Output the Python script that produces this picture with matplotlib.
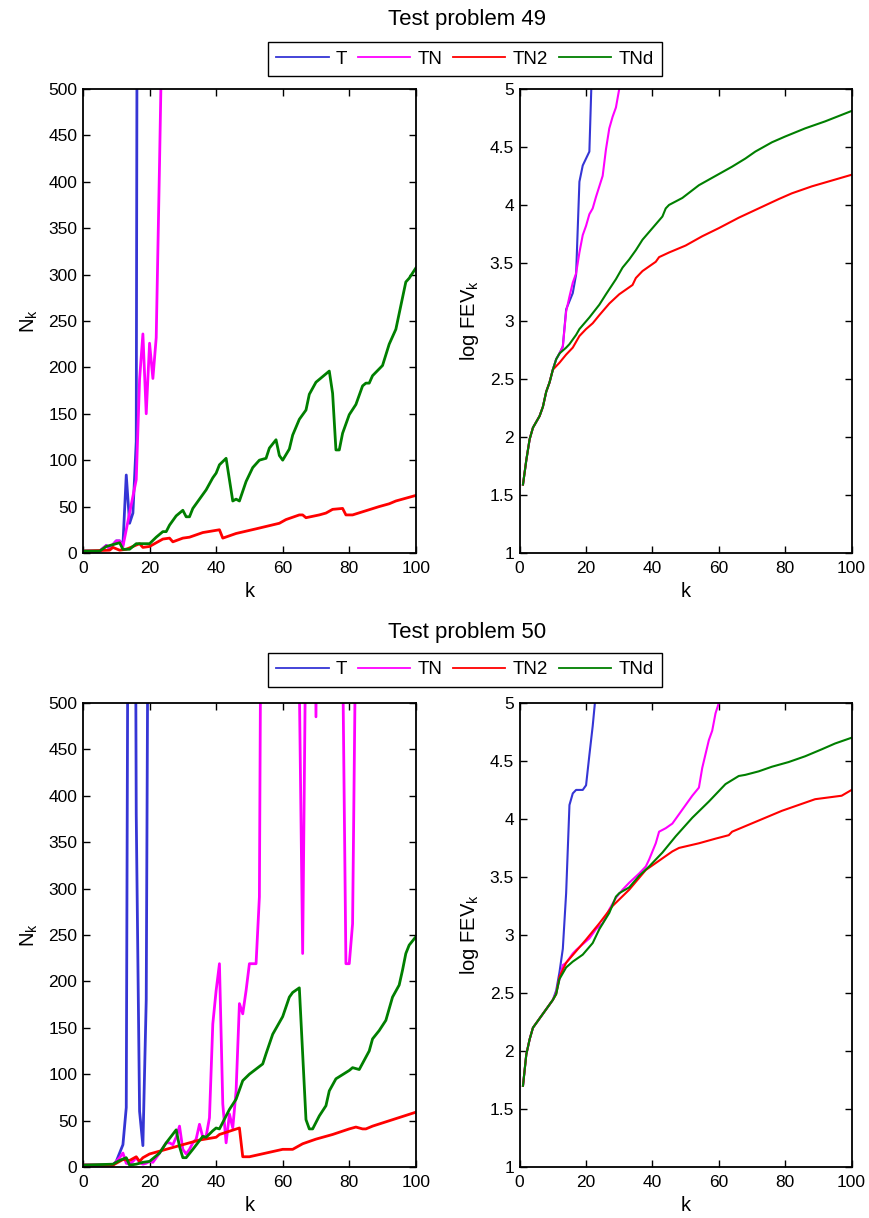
import matplotlib
matplotlib.use('Agg')
import matplotlib.pyplot as plt
from matplotlib.lines import Line2D
from matplotlib.ticker import MultipleLocator, FormatStrFormatter

plt.rcParams['font.family'] = ['Liberation Sans', 'DejaVu Sans']
plt.rcParams['mathtext.default'] = 'regular'

# ---- Test problem 49 : N_k ----
t49_k = [0, 5, 7, 8, 10, 11, 12, 13, 14, 15, 16, 17]
t49_n = [2, 2, 8, 5, 13, 13, 9, 84, 32, 43, 120, 2000]
tn49_k = [0, 5, 7, 8, 10, 11, 12, 14, 16, 17, 18, 19, 20, 21, 22, 23, 24]
tn49_n = [2, 2, 8, 5, 13, 13, 7, 43, 79, 187, 236, 150, 226, 188, 232, 420, 620]
tn2_49_k = [0, 8, 9, 11, 13, 15, 17, 18, 20, 22, 24, 26, 27, 30, 32, 36, 41, 42, 46, 52,
            59, 61, 65, 66, 67, 71, 73, 75, 78, 79, 81, 89, 92, 94, 100]
tn2_49_n = [2, 3, 6, 3, 4, 7, 10, 6, 7, 11, 15, 16, 12, 16, 17, 22, 25, 16, 21, 26,
            32, 36, 41, 41, 38, 41, 43, 47, 48, 41, 41, 50, 53, 56, 62]
tnd49_k = [0, 5, 7, 9, 11, 12, 14, 16, 20, 22, 24, 25, 26, 28, 30, 31, 32, 33, 35, 37,
           39, 40, 41, 43, 45, 46, 47, 49, 51, 53, 55, 56, 58, 59, 60, 62, 63, 65, 67, 68,
           70, 74, 75, 76, 77, 78, 80, 82, 84, 85, 86, 87, 90, 92, 94, 97, 98, 100]
tnd49_n = [2, 2, 7, 9, 11, 4, 4, 10, 10, 17, 23, 23, 30, 40, 46, 39, 39, 48, 58, 68,
           81, 86, 95, 102, 56, 58, 56, 77, 92, 100, 102, 113, 122, 105, 100, 112, 127, 144, 154, 171,
           184, 196, 172, 111, 111, 129, 149, 160, 180, 183, 183, 191, 202, 225, 241, 292, 296, 307]

# ---- Test problem 49 : log FEV_k ----
t49_fk = [1, 2, 3, 4, 6, 7, 8, 9, 10, 11, 12, 13, 14, 15, 16, 17, 18, 19, 20, 21, 22]
t49_f = [1.59, 1.80, 1.98, 2.08, 2.18, 2.26, 2.39, 2.47, 2.58, 2.67,
         2.72, 2.78, 3.10, 3.17, 3.24, 3.40, 4.20, 4.34, 4.40, 4.46, 5.4]
tn49_fk = [1, 2, 3, 4, 6, 7, 8, 9, 10, 11, 12, 13, 14, 15, 16, 17, 18, 19, 20, 21,
           22, 23, 25, 26, 27, 28, 29, 30, 31]
tn49_f = [1.59, 1.80, 1.98, 2.08, 2.18, 2.26, 2.39, 2.47, 2.58, 2.67,
          2.72, 2.78, 3.08, 3.21, 3.33, 3.41, 3.59, 3.74, 3.82, 3.92,
          3.97, 4.07, 4.25, 4.48, 4.66, 4.76, 4.84, 5.0, 5.15]
tn2_49_fk = [1, 2, 3, 4, 6, 7, 8, 9, 10, 11, 12, 14, 16, 18, 20, 22, 24, 27, 30, 34,
             35, 37, 41, 42, 45, 50, 55, 60, 66, 72, 78, 82, 88, 94, 100]
tn2_49_f = [1.59, 1.80, 1.98, 2.08, 2.18, 2.26, 2.39, 2.47, 2.58, 2.61,
            2.64, 2.71, 2.77, 2.87, 2.93, 2.98, 3.05, 3.15, 3.23, 3.31,
            3.37, 3.43, 3.51, 3.55, 3.59, 3.65, 3.73, 3.80, 3.89, 3.97,
            4.05, 4.10, 4.16, 4.21, 4.26]
tnd49_fk = [1, 2, 3, 4, 6, 7, 8, 9, 10, 11, 12, 14, 15, 17, 18, 21, 24, 26, 29, 31,
            33, 35, 37, 40, 43, 44, 45, 49, 54, 59, 64, 68, 71, 76, 80, 86, 92, 100]
tnd49_f = [1.59, 1.80, 1.98, 2.08, 2.18, 2.26, 2.39, 2.47, 2.58, 2.67,
           2.72, 2.77, 2.80, 2.88, 2.93, 3.03, 3.14, 3.23, 3.36, 3.46,
           3.53, 3.61, 3.70, 3.80, 3.90, 3.97, 4.00, 4.06, 4.17, 4.25,
           4.33, 4.40, 4.46, 4.54, 4.59, 4.66, 4.72, 4.81]

# ---- Test problem 50 : N_k ----
t50_k = [0, 9, 10, 11, 12, 13, 14, 15, 16, 17, 18, 19, 20]
t50_n = [2, 2, 6, 15, 24, 64, 1150, 1400, 380, 60, 23, 180, 1000]
tn50_k = [0, 9, 10, 11, 12, 13, 14, 15, 16, 17, 18, 19, 20, 21, 22, 23, 25, 26, 27, 28,
          29, 30, 31, 32, 33, 34, 35, 36, 37, 38, 39, 40, 41, 42, 43, 44, 45, 46, 47, 48,
          49, 50, 51, 52, 53, 54, 64, 65, 66, 67, 68, 69, 70, 71, 77, 78, 79, 80, 81, 82, 83]
tn50_n = [2, 2, 6, 10, 15, 4, 3, 6, 10, 5, 3, 4, 6, 5, 10, 15, 26, 26, 24, 32,
          44, 19, 14, 19, 26, 30, 46, 32, 33, 53, 154, 190, 219, 68, 26, 57, 42, 82, 176, 165,
          190, 219, 219, 219, 291, 1000, 1000, 520, 230, 600, 1000, 1000, 485, 1000, 1000, 560,
          219, 219, 262, 600, 1000]
tn2_50_k = [0, 9, 10, 11, 12, 14, 16, 17, 18, 20, 25, 30, 35, 40, 41, 47, 48, 50, 55, 60,
            63, 66, 70, 75, 80, 82, 84, 85, 87, 100]
tn2_50_n = [2, 2, 4, 6, 8, 7, 11, 6, 10, 14, 19, 24, 29, 32, 35, 42, 11, 11, 15, 19,
            19, 25, 30, 35, 41, 43, 41, 41, 44, 59]
tnd50_k = [0, 9, 11, 13, 14, 16, 18, 20, 23, 25, 28, 29, 30, 31, 33, 36, 37, 39, 40, 41,
           42, 44, 46, 48, 50, 54, 55, 57, 60, 62, 63, 65, 66, 67, 68, 69, 71, 73, 74, 76,
           80, 81, 83, 86, 87, 89, 91, 93, 95, 96, 97, 98, 100]
tnd50_n = [2, 3, 7, 10, 2, 3, 5, 6, 15, 26, 40, 22, 10, 10, 19, 33, 32, 39, 42, 41,
           48, 62, 73, 93, 100, 111, 122, 143, 162, 183, 188, 193, 122, 51, 41, 41, 55, 66, 82, 95,
           104, 107, 105, 125, 138, 147, 158, 183, 196, 212, 230, 239, 248]

# ---- Test problem 50 : log FEV_k ----
t50_fk = [1, 2, 3, 4, 6, 8, 10, 11, 12, 13, 14, 15, 16, 17, 19, 20, 21, 22, 23]
t50_f = [1.70, 1.97, 2.10, 2.20, 2.28, 2.36, 2.44, 2.52, 2.68, 2.88,
         3.36, 4.12, 4.22, 4.25, 4.25, 4.29, 4.55, 4.80, 5.10]
tn50_fk = [1, 2, 3, 4, 6, 8, 10, 11, 12, 13, 14, 16, 17, 19, 21, 23, 25, 27, 29, 31,
           33, 36, 38, 39, 41, 42, 44, 46, 48, 50, 52, 54, 55, 57, 58, 59, 60, 61]
tn50_f = [1.70, 1.97, 2.10, 2.20, 2.28, 2.36, 2.44, 2.50, 2.62, 2.74,
          2.76, 2.84, 2.87, 2.92, 2.97, 3.05, 3.10, 3.22, 3.32, 3.39,
          3.45, 3.53, 3.59, 3.65, 3.79, 3.89, 3.92, 3.96, 4.04, 4.12,
          4.20, 4.27, 4.44, 4.68, 4.76, 4.91, 5.0, 5.1]
tn2_50_fk = [1, 2, 3, 4, 6, 8, 10, 11, 12, 14, 17, 20, 24, 28, 33, 38, 43, 46, 48, 54,
             59, 63, 64, 69, 74, 79, 84, 89, 97, 100]
tn2_50_f = [1.70, 1.97, 2.10, 2.20, 2.28, 2.36, 2.44, 2.49, 2.64, 2.76,
            2.86, 2.96, 3.10, 3.25, 3.39, 3.56, 3.66, 3.72, 3.75, 3.79,
            3.83, 3.86, 3.89, 3.95, 4.01, 4.07, 4.12, 4.17, 4.20, 4.25]
tnd50_fk = [1, 2, 3, 4, 6, 8, 10, 11, 12, 14, 16, 19, 22, 24, 27, 29, 30, 33, 36, 39,
            43, 47, 52, 57, 62, 66, 68, 72, 76, 81, 86, 91, 95, 100]
tnd50_f = [1.70, 1.97, 2.10, 2.20, 2.28, 2.36, 2.44, 2.49, 2.62, 2.72,
           2.77, 2.83, 2.93, 3.05, 3.19, 3.33, 3.36, 3.41, 3.51, 3.59,
           3.71, 3.85, 4.01, 4.15, 4.30, 4.37, 4.38, 4.41, 4.45, 4.49,
           4.54, 4.60, 4.65, 4.70]

labels = ['T', 'TN', 'TN2', 'TNd']
colors = ['#3535d5', '#ff00ff', '#ff0000', '#007f00']


def style_axes(ax):
    ax.set_xlim(0, 100)
    ax.xaxis.set_major_locator(MultipleLocator(20))
    ax.tick_params(direction='in', top=True, right=True, length=5, width=1,
                   labelsize=12.5, pad=4)
    ax.tick_params(axis='x', pad=6)
    for s in ax.spines.values():
        s.set_linewidth(1.3)
    ax.set_xlabel('k', fontsize=14.5, labelpad=4)


def draw_problem(title, y_title, y_leg, bottom, n_series, f_series):
    axl = fig.add_axes([0.0955, bottom, 0.383, 0.381])
    axr = fig.add_axes([0.598, bottom, 0.382, 0.381])
    for (k, v), c in zip(n_series, colors):
        axl.plot(k, v, color=c, lw=2.0)
    for (k, v), c in zip(f_series, colors):
        axr.plot(k, v, color=c, lw=1.5)
    style_axes(axl)
    style_axes(axr)
    axl.set_ylim(0, 500)
    axl.yaxis.set_major_locator(MultipleLocator(50))
    axl.set_ylabel('N$_k$', fontsize=14.5, labelpad=6)
    axr.set_ylim(1, 5)
    axr.yaxis.set_major_locator(MultipleLocator(0.5))
    axr.yaxis.set_major_formatter(FormatStrFormatter('%g'))
    axr.set_ylabel('log FEV$_k$', fontsize=14.5, labelpad=6)
    fig.text(0.537, y_title, title, ha='center', va='center', fontsize=16)
    handles = [Line2D([], [], color=c, lw=1.3) for c in colors]
    leg = fig.legend(handles, labels, ncol=4, loc='center',
                     bbox_to_anchor=(0.535, y_leg), fontsize=13.5,
                     handlelength=2.8, handletextpad=0.4, columnspacing=0.55,
                     fancybox=False, framealpha=1, edgecolor='black',
                     borderpad=0.45)
    leg.get_frame().set_linewidth(1.0)


fig = plt.figure(figsize=(8.69, 12.18), dpi=100)

draw_problem('Test problem 49', 0.9836, 0.9516, 0.546,
             [(t49_k, t49_n), (tn49_k, tn49_n), (tn2_49_k, tn2_49_n), (tnd49_k, tnd49_n)],
             [(t49_fk, t49_f), (tn49_fk, tn49_f), (tn2_49_fk, tn2_49_f), (tnd49_fk, tnd49_f)])
draw_problem('Test problem 50', 0.481, 0.450, 0.0419,
             [(t50_k, t50_n), (tn50_k, tn50_n), (tn2_50_k, tn2_50_n), (tnd50_k, tnd50_n)],
             [(t50_fk, t50_f), (tn50_fk, tn50_f), (tn2_50_fk, tn2_50_f), (tnd50_fk, tnd50_f)])

fig.savefig('out.png', dpi=100)
